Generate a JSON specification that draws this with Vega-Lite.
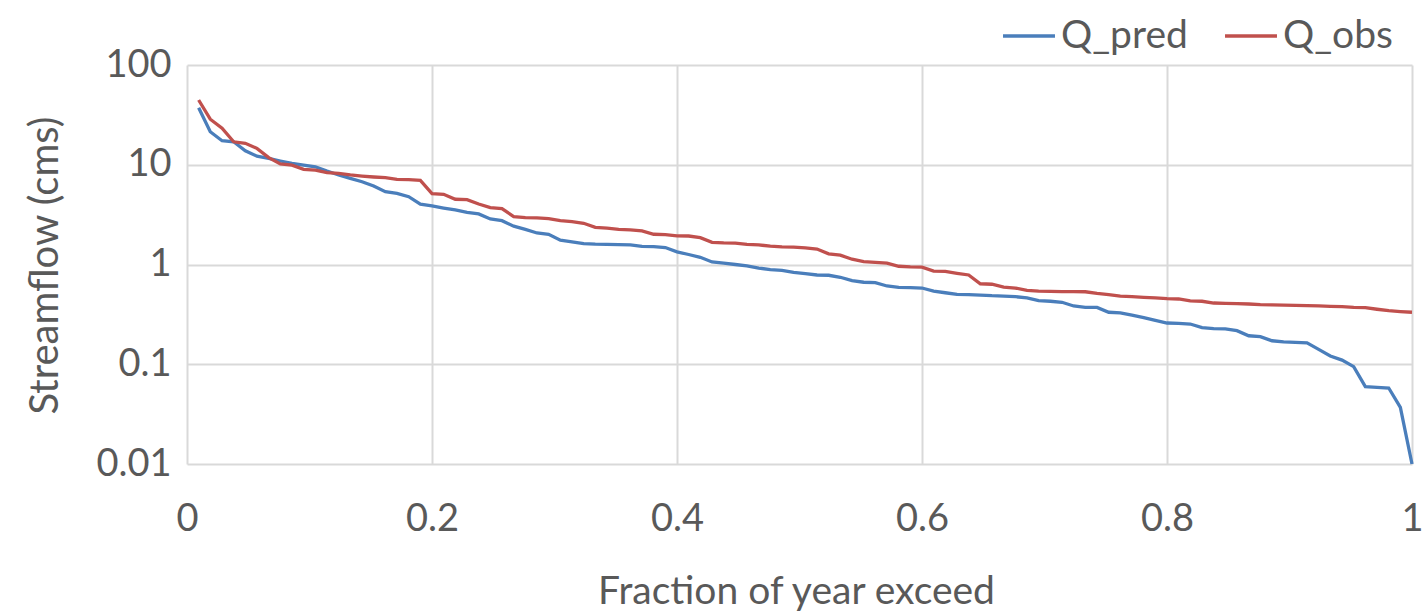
{
  "$schema": "https://vega.github.io/schema/vega-lite/v6.json",
  "width": 1225,
  "height": 399,
  "autosize": {"type": "none"},
  "padding": {"left": 187, "top": 65, "right": 10, "bottom": 150},
  "background": "white",
  "config": {
    "view": {"stroke": null},
    "font": "Lato",
    "axis": {"labelFont": "Lato", "titleFont": "Lato", "labelColor": "#595959", "titleColor": "#595959", "titleFontWeight": "normal", "gridColor": "#d9d9d9", "gridWidth": 2, "domain": false, "ticks": false},
    "legend": {"labelFont": "Lato", "labelColor": "#595959"}
  },
  "data": {"values": [
    {"f":0.0095,"Q_pred":37.3,"Q_obs":44.6},
    {"f":0.019,"Q_pred":21.4,"Q_obs":28.6},
    {"f":0.0286,"Q_pred":17.4,"Q_obs":23.2},
    {"f":0.0381,"Q_pred":17.0,"Q_obs":17.0},
    {"f":0.0476,"Q_pred":13.8,"Q_obs":16.4},
    {"f":0.0571,"Q_pred":12.2,"Q_obs":14.6},
    {"f":0.0667,"Q_pred":11.6,"Q_obs":11.8},
    {"f":0.0762,"Q_pred":10.9,"Q_obs":10.2},
    {"f":0.0857,"Q_pred":10.3,"Q_obs":9.9},
    {"f":0.0952,"Q_pred":9.9,"Q_obs":9.0},
    {"f":0.1048,"Q_pred":9.55,"Q_obs":8.85},
    {"f":0.1143,"Q_pred":8.65,"Q_obs":8.32},
    {"f":0.1238,"Q_pred":7.9,"Q_obs":8.2},
    {"f":0.1333,"Q_pred":7.3,"Q_obs":7.9},
    {"f":0.1429,"Q_pred":6.76,"Q_obs":7.7},
    {"f":0.1524,"Q_pred":6.12,"Q_obs":7.54},
    {"f":0.1619,"Q_pred":5.37,"Q_obs":7.42},
    {"f":0.1714,"Q_pred":5.17,"Q_obs":7.15},
    {"f":0.181,"Q_pred":4.78,"Q_obs":7.08},
    {"f":0.1905,"Q_pred":4.02,"Q_obs":6.98},
    {"f":0.2,"Q_pred":3.86,"Q_obs":5.13},
    {"f":0.2095,"Q_pred":3.68,"Q_obs":5.06},
    {"f":0.219,"Q_pred":3.52,"Q_obs":4.51},
    {"f":0.2286,"Q_pred":3.33,"Q_obs":4.47},
    {"f":0.2381,"Q_pred":3.21,"Q_obs":4.04},
    {"f":0.2476,"Q_pred":2.86,"Q_obs":3.72},
    {"f":0.2571,"Q_pred":2.75,"Q_obs":3.63},
    {"f":0.2667,"Q_pred":2.42,"Q_obs":3.02},
    {"f":0.2762,"Q_pred":2.25,"Q_obs":2.95},
    {"f":0.2857,"Q_pred":2.07,"Q_obs":2.93},
    {"f":0.2952,"Q_pred":2.01,"Q_obs":2.88},
    {"f":0.3048,"Q_pred":1.75,"Q_obs":2.75},
    {"f":0.3143,"Q_pred":1.69,"Q_obs":2.69},
    {"f":0.3238,"Q_pred":1.62,"Q_obs":2.59},
    {"f":0.3333,"Q_pred":1.6,"Q_obs":2.36},
    {"f":0.3429,"Q_pred":1.59,"Q_obs":2.31},
    {"f":0.3524,"Q_pred":1.58,"Q_obs":2.25},
    {"f":0.3619,"Q_pred":1.57,"Q_obs":2.22},
    {"f":0.3714,"Q_pred":1.52,"Q_obs":2.17},
    {"f":0.381,"Q_pred":1.51,"Q_obs":2.01},
    {"f":0.3905,"Q_pred":1.48,"Q_obs":1.99},
    {"f":0.4,"Q_pred":1.34,"Q_obs":1.94},
    {"f":0.4095,"Q_pred":1.26,"Q_obs":1.93},
    {"f":0.419,"Q_pred":1.18,"Q_obs":1.86},
    {"f":0.4286,"Q_pred":1.06,"Q_obs":1.67},
    {"f":0.4381,"Q_pred":1.03,"Q_obs":1.65},
    {"f":0.4476,"Q_pred":1.0,"Q_obs":1.64},
    {"f":0.4571,"Q_pred":0.97,"Q_obs":1.59},
    {"f":0.4667,"Q_pred":0.92,"Q_obs":1.57},
    {"f":0.4762,"Q_pred":0.89,"Q_obs":1.53},
    {"f":0.4857,"Q_pred":0.875,"Q_obs":1.5},
    {"f":0.4952,"Q_pred":0.835,"Q_obs":1.49},
    {"f":0.5048,"Q_pred":0.809,"Q_obs":1.47},
    {"f":0.5143,"Q_pred":0.785,"Q_obs":1.43},
    {"f":0.5238,"Q_pred":0.78,"Q_obs":1.28},
    {"f":0.5333,"Q_pred":0.745,"Q_obs":1.24},
    {"f":0.5429,"Q_pred":0.689,"Q_obs":1.13},
    {"f":0.5524,"Q_pred":0.664,"Q_obs":1.07},
    {"f":0.5619,"Q_pred":0.658,"Q_obs":1.05},
    {"f":0.5714,"Q_pred":0.609,"Q_obs":1.03},
    {"f":0.581,"Q_pred":0.59,"Q_obs":0.96},
    {"f":0.5905,"Q_pred":0.586,"Q_obs":0.945},
    {"f":0.6,"Q_pred":0.581,"Q_obs":0.94},
    {"f":0.6095,"Q_pred":0.542,"Q_obs":0.86},
    {"f":0.619,"Q_pred":0.521,"Q_obs":0.855},
    {"f":0.6286,"Q_pred":0.502,"Q_obs":0.817},
    {"f":0.6381,"Q_pred":0.499,"Q_obs":0.785},
    {"f":0.6476,"Q_pred":0.494,"Q_obs":0.641},
    {"f":0.6571,"Q_pred":0.487,"Q_obs":0.634},
    {"f":0.6667,"Q_pred":0.483,"Q_obs":0.594},
    {"f":0.6762,"Q_pred":0.476,"Q_obs":0.581},
    {"f":0.6857,"Q_pred":0.462,"Q_obs":0.551},
    {"f":0.6952,"Q_pred":0.434,"Q_obs":0.542},
    {"f":0.7048,"Q_pred":0.428,"Q_obs":0.538},
    {"f":0.7143,"Q_pred":0.418,"Q_obs":0.535},
    {"f":0.7238,"Q_pred":0.384,"Q_obs":0.534},
    {"f":0.7333,"Q_pred":0.372,"Q_obs":0.533},
    {"f":0.7429,"Q_pred":0.371,"Q_obs":0.514},
    {"f":0.7524,"Q_pred":0.332,"Q_obs":0.499},
    {"f":0.7619,"Q_pred":0.327,"Q_obs":0.483},
    {"f":0.7714,"Q_pred":0.31,"Q_obs":0.476},
    {"f":0.781,"Q_pred":0.293,"Q_obs":0.469},
    {"f":0.7905,"Q_pred":0.275,"Q_obs":0.462},
    {"f":0.8,"Q_pred":0.259,"Q_obs":0.454},
    {"f":0.8095,"Q_pred":0.257,"Q_obs":0.451},
    {"f":0.819,"Q_pred":0.253,"Q_obs":0.431},
    {"f":0.8286,"Q_pred":0.233,"Q_obs":0.428},
    {"f":0.8381,"Q_pred":0.228,"Q_obs":0.411},
    {"f":0.8476,"Q_pred":0.226,"Q_obs":0.408},
    {"f":0.8571,"Q_pred":0.217,"Q_obs":0.405},
    {"f":0.8667,"Q_pred":0.193,"Q_obs":0.402},
    {"f":0.8762,"Q_pred":0.189,"Q_obs":0.396},
    {"f":0.8857,"Q_pred":0.172,"Q_obs":0.393},
    {"f":0.8952,"Q_pred":0.168,"Q_obs":0.392},
    {"f":0.9048,"Q_pred":0.166,"Q_obs":0.39},
    {"f":0.9143,"Q_pred":0.164,"Q_obs":0.387},
    {"f":0.9238,"Q_pred":0.141,"Q_obs":0.384},
    {"f":0.9333,"Q_pred":0.121,"Q_obs":0.381},
    {"f":0.9429,"Q_pred":0.11,"Q_obs":0.378},
    {"f":0.9524,"Q_pred":0.0946,"Q_obs":0.372},
    {"f":0.9619,"Q_pred":0.0596,"Q_obs":0.369},
    {"f":0.9714,"Q_pred":0.0587,"Q_obs":0.356},
    {"f":0.981,"Q_pred":0.0578,"Q_obs":0.344},
    {"f":0.9905,"Q_pred":0.037,"Q_obs":0.337},
    {"f":1.0,"Q_pred":0.01,"Q_obs":0.332}
  ]},
  "transform": [{"fold": ["Q_pred", "Q_obs"], "as": ["series", "q"]}],
  "mark": {"type": "line", "strokeWidth": 3.3, "clip": false},
  "encoding": {
    "x": {
      "field": "f", "type": "quantitative",
      "scale": {"domain": [0, 1], "nice": false, "zero": false},
      "axis": {"values": [0, 0.2, 0.4, 0.6, 0.8, 1], "format": "~g", "labelFontSize": 38, "labelPadding": 36, "title": "Fraction of year exceed", "titleFontSize": 39, "titleX": 609, "titleY": 127, "titleBaseline": "middle", "titleAlign": "center", "labelFlush": false}
    },
    "y": {
      "field": "q", "type": "quantitative",
      "scale": {"type": "log", "domain": [0.01, 100], "nice": false},
      "axis": {"values": [0.01, 0.1, 1, 10, 100], "format": "~g", "labelFontSize": 38, "labelPadding": 16, "title": "Streamflow (cms)", "titleFontSize": 40, "titleX": -142, "titleY": 200, "titleBaseline": "middle", "titleAlign": "center", "titleAngle": -90, "labelFlush": false}
    },
    "color": {
      "field": "series", "type": "nominal",
      "scale": {"domain": ["Q_pred", "Q_obs"], "range": ["#4a7ebb", "#c0504d"]},
      "legend": {"title": null, "orient": "none", "direction": "horizontal", "legendX": 814, "legendY": -57, "symbolType": "stroke", "symbolSize": 2700, "symbolStrokeWidth": 3.3, "labelFontSize": 39, "labelOffset": 4, "columnPadding": 30}
    },
    "order": {"field": "f", "type": "quantitative"}
  }
}
